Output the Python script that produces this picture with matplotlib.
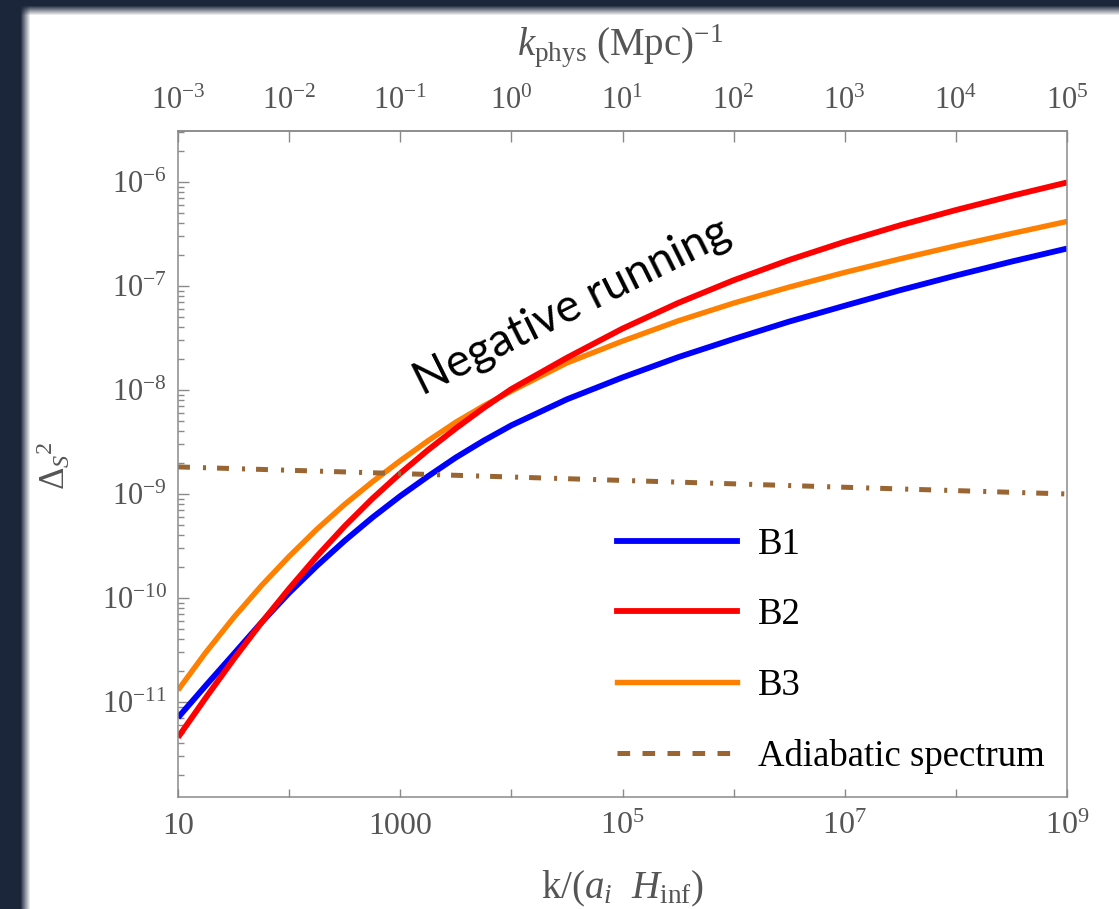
import numpy as np
import matplotlib.pyplot as plt
from matplotlib.lines import Line2D
from matplotlib.ticker import FixedLocator, FixedFormatter, LogLocator, NullFormatter

plt.rcParams['font.family'] = 'Liberation Serif'
plt.rcParams['mathtext.fontset'] = 'custom'
plt.rcParams['mathtext.rm'] = 'Liberation Serif'
plt.rcParams['mathtext.it'] = 'Liberation Serif:italic'
plt.rcParams['lines.scale_dashes'] = False

# --- values ---
k_vals = [1e1, 1.78e1, 3.16e1, 5.62e1, 1e2, 1.78e2, 3.16e2, 5.62e2, 1e3, 1.78e3,
          3.16e3, 5.62e3, 1e4, 3.16e4, 1e5, 3.16e5, 1e6, 3.16e6, 1e7, 3.16e7,
          1e8, 3.16e8, 1e9]
b1 = [7.08e-12, 1.44e-11, 2.88e-11, 5.79e-11, 1.12e-10, 2.04e-10, 3.55e-10, 5.94e-10,
      9.55e-10, 1.48e-9, 2.24e-9, 3.25e-9, 4.57e-9, 8.13e-9, 1.32e-8, 2.065e-8,
      3.09e-8, 4.545e-8, 6.46e-8, 9.12e-8, 1.26e-7, 1.714e-7, 2.29e-7]
b2 = [4.57e-12, 1.10e-11, 2.57e-11, 5.77e-11, 1.23e-10, 2.52e-10, 4.90e-10, 9.04e-10,
      1.58e-9, 2.65e-9, 4.27e-9, 6.71e-9, 1.02e-8, 2.04e-8, 3.89e-8, 6.855e-8,
      1.135e-7, 1.778e-7, 2.66e-7, 3.837e-7, 5.37e-7, 7.345e-7, 9.89e-7]
b3 = [1.30e-11, 3.00e-11, 6.46e-11, 1.31e-10, 2.51e-10, 4.59e-10, 7.94e-10, 1.31e-9,
      2.09e-9, 3.25e-9, 4.90e-9, 7.03e-9, 9.77e-9, 1.82e-8, 2.95e-8, 4.613e-8,
      6.84e-8, 9.75e-8, 1.35e-7, 1.824e-7, 2.43e-7, 3.19e-7, 4.17e-7]
k_adi = [1e1, 1e3, 1e5, 1e7, 1e9]
adiabatic = [1.82e-9, 1.57e-9, 1.35e-9, 1.16e-9, 1.0e-9]

bottom_ticks = [1e1, 1e2, 1e3, 1e4, 1e5, 1e6, 1e7, 1e8, 1e9]
bottom_labels = ['10', '', '1000', '', r'$10^{5}$', '', r'$10^{7}$', '', r'$10^{9}$']
top_ticks = [1e-3, 1e-2, 1e-1, 1e0, 1e1, 1e2, 1e3, 1e4, 1e5]
top_labels = [r'$10^{-3}$', r'$10^{-2}$', r'$10^{-1}$', r'$10^{0}$', r'$10^{1}$',
              r'$10^{2}$', r'$10^{3}$', r'$10^{4}$', r'$10^{5}$']
left_ticks = [1e-11, 1e-10, 1e-9, 1e-8, 1e-7, 1e-6]
left_labels = [r'$10^{-11}$', r'$10^{-10}$', r'$10^{-9}$', r'$10^{-8}$', r'$10^{-7}$', r'$10^{-6}$']
legend_labels = ['B1', 'B2', 'B3', 'Adiabatic spectrum']

W, H = 1119, 909
fig = plt.figure(figsize=(W / 100, H / 100), dpi=100)

# dark frame with a soft white panel (screenshot look)
navy = np.array([0x1c, 0x26, 0x3b]) / 255
yy, xx = np.mgrid[0:H, 0:W]
f = (np.clip((xx - 20) / 10, 0, 1) * np.clip((yy - 5) / 10, 0, 1))[..., None]
bg = navy * (1 - f) + f
bga = fig.add_axes([0, 0, 1, 1], zorder=-10)
bga.imshow(bg, aspect='auto', interpolation='bilinear')
bga.axis('off')

ax = fig.add_axes([178 / W, 1 - 797 / H, 889 / W, 666 / H])
ax.set_facecolor('none')
ax.set_xscale('log')
ax.set_yscale('log')

blue, red, orange, brown = '#0000ff', '#ff0000', '#ff8000', '#996633'
ax.plot(k_vals, b1, color=blue, lw=4.2, solid_capstyle='butt')
ax.plot(k_vals, b3, color=orange, lw=3.9, solid_capstyle='butt')
ax.plot(k_vals, b2, color=red, lw=4.2, solid_capstyle='butt')
ax.plot(k_adi, adiabatic, color=brown, lw=3.6,
        linestyle=(0, (8.6, 9.4, 2.2, 7.9)), dash_capstyle='butt')

ax.set_xlim(1e1, 1e9)
ax.set_ylim(1.22e-12, 3.09e-6)

gray = '#555555'
spine_c = '#8a8a8a'
for s in ax.spines.values():
    s.set_color(spine_c)
    s.set_linewidth(1.1)

ax.xaxis.set_major_locator(FixedLocator(bottom_ticks))
ax.xaxis.set_major_formatter(FixedFormatter(bottom_labels))
ax.xaxis.set_minor_locator(FixedLocator([]))
ax.yaxis.set_major_locator(FixedLocator(left_ticks))
ax.yaxis.set_major_formatter(FixedFormatter(left_labels))
ax.yaxis.set_minor_locator(LogLocator(base=10, subs=np.arange(2, 10), numticks=30))
ax.yaxis.set_minor_formatter(NullFormatter())

ax.tick_params(axis='x', which='major', direction='in', length=6, width=1.0,
               color=spine_c, labelsize=23, labelcolor=gray, pad=11, top=False)
ax.tick_params(axis='y', which='major', direction='in', length=8, width=1.0,
               color=spine_c, labelsize=22, labelcolor=gray, pad=8, right=False)
ax.tick_params(axis='y', which='minor', direction='in', length=4.5, width=1.0,
               color=spine_c, right=False)

sec = ax.secondary_xaxis('top', functions=(lambda x: x * 1e-4, lambda x: x * 1e4))
sec.xaxis.set_major_locator(FixedLocator(top_ticks))
sec.xaxis.set_major_formatter(FixedFormatter(top_labels))
sec.xaxis.set_minor_locator(FixedLocator([]))
sec.tick_params(axis='x', which='major', direction='in', length=8, width=1.0,
                color=spine_c, labelsize=22, labelcolor=gray, pad=11)
sec.spines['top'].set_color(spine_c)
sec.spines['top'].set_linewidth(1.1)

# top axis title, placed above the top tick labels
fig.text(620 / W, 1 - 55 / H, r'$k_{\mathrm{phys}}$ (Mpc)$^{-1}$', fontsize=28,
         color=gray, ha='center', va='baseline')

ax.set_xlabel(r'k/($a_i$  $H_{\mathrm{inf}}$)', fontsize=28, color=gray)
ax.xaxis.set_label_coords(0.5, -0.108)
ax.set_ylabel(r'$\Delta_{S}{}^{2}$', fontsize=25, color=gray)
ax.yaxis.set_label_coords(-0.118, 0.498)

ax.text(0.443, 0.736, 'Negative running', transform=ax.transAxes, fontsize=33,
        family='Lato', color='black', rotation=26.5, rotation_mode='anchor',
        ha='center', va='center')

handles = [
    Line2D([], [], color=blue, lw=4.2),
    Line2D([], [], color=red, lw=4.2),
    Line2D([], [], color=orange, lw=3.9),
    Line2D([], [], color=brown, lw=3.6, linestyle=(0, (9.1, 8.9))),
]
ax.legend(handles, legend_labels, loc='upper left',
          bbox_to_anchor=(0.4938, 0.405), frameon=False, fontsize=26.5,
          handlelength=3.26, handletextpad=0.57, labelspacing=0.98, borderpad=0,
          borderaxespad=0)

fig.savefig('out.png', dpi=100)
